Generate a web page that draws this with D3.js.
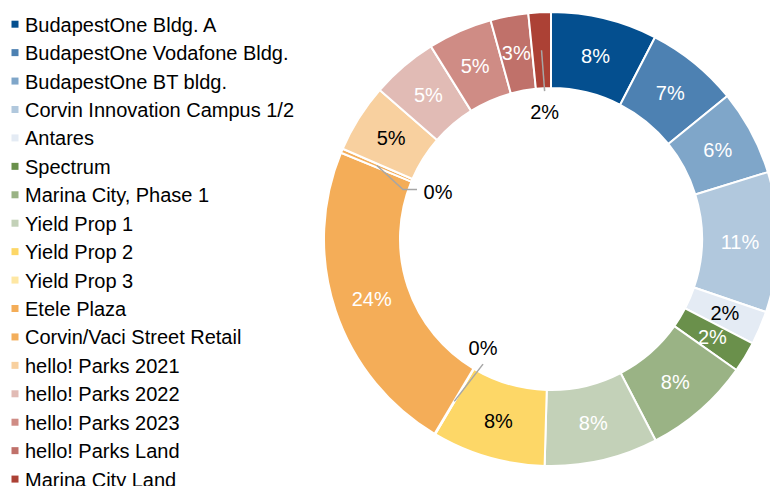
<!DOCTYPE html>
<html>
<head>
<meta charset="utf-8">
<script src="https://cdn.jsdelivr.net/npm/d3@7"></script>
<style>
  html, body { margin: 0; padding: 0; background: #fff; }
  svg { display: block; font-family: "Liberation Sans", Arial, sans-serif; }
</style>
</head>
<body>
<div id="donut_chart"></div>
<script>
// categories, in ring order (clockwise from 12 o'clock)
const categories = [
    "BudapestOne Bldg. A", "BudapestOne Vodafone Bldg.", "BudapestOne BT bldg.",
    "Corvin Innovation Campus 1/2", "Antares", "Spectrum", "Marina City, Phase 1",
    "Yield Prop 1", "Yield Prop 2", "Yield Prop 3", "Etele Plaza",
    "Corvin/Vaci Street Retail", "hello! Parks 2021", "hello! Parks 2022",
    "hello! Parks 2023", "hello! Parks Land", "Marina City Land"
];
// share of the ring (%)
const shares = [7.6, 6.6, 6.1, 10.0, 2.4, 2.2, 7.6, 8.1, 8.1, 0.05, 22.7, 0.3, 4.9, 4.75, 4.6, 2.7, 1.6];
// data labels as printed on the chart
const pctLabels = ["8%", "7%", "6%", "11%", "2%", "2%", "8%", "8%", "8%", "0%", "24%", "0%", "5%", "5%", "5%", "3%", "2%"];

const color_range = ["#044F8F", "#4D81B2", "#7FA6C9", "#B1C8DD", "#E4EBF4", "#6A904B", "#9AB385",
    "#C3D1B8", "#FDD767", "#FEE7A3", "#F4AD58", "#F3AE5B", "#F8D09F", "#E1BBB5", "#CF8C85",
    "#C0716A", "#AC4135"];
// labels drawn in black (light slices or leader-line labels)
const blackLabels = ["Antares", "Yield Prop 2", "Yield Prop 3", "Corvin/Vaci Street Retail", "hello! Parks 2021", "Marina City Land"];
const leaderLabels = ["Yield Prop 3", "Corvin/Vaci Street Retail", "Marina City Land"];

const width = 770, height = 486;
const cx = 551, cy = 239, outerR = 227, innerR = 151;

const svg = d3.select("#donut_chart")
    .append("svg")
        .attr("width", width)
        .attr("height", height);

const data = categories.map((c, i) => ({name: c, value: shares[i], label: pctLabels[i]}));

const color = d3.scaleOrdinal()
    .domain(categories)
    .range(color_range);

const pie = d3.pie()
    .sort(null)
    .value(d => d.value);

const arc = d3.arc()
    .innerRadius(innerR)
    .outerRadius(outerR);

const arcs = pie(data);

const g = svg.append("g")
    .attr("transform", `translate(${cx},${cy})`);

// slices
g.selectAll("path.slice")
    .data(arcs)
    .join("path")
        .attr("class", "slice")
        .attr("d", arc)
        .attr("fill", d => color(d.data.name))
        .attr("stroke", "#fff")
        .attr("stroke-width", 2)
        .attr("stroke-linejoin", "round");

// labels
const midR = (innerR + outerR) / 2;
const leaderR = 127;
function polar(r, a) { return [r * Math.sin(a), -r * Math.cos(a)]; }

arcs.forEach(d => {
    const mid = (d.startAngle + d.endAngle) / 2;
    const isLeader = leaderLabels.includes(d.data.name);
    let p = isLeader ? polar(leaderR, mid) : arc.centroid(d);

    if (isLeader) {
        const s = polar(midR, mid);
        let pts;
        const dx = p[0] - s[0], dy = p[1] - s[1];
        if (Math.abs(dx) > Math.abs(dy) * 0.9 && Math.abs(dy) < 60) {
            // elbow into the left side of the label
            p = [p[0] + 4, p[1] + 2];
            const ex = p[0] - 21, ey = p[1] - 2;
            pts = [s, [ex - 14, ey], [ex, ey]];
        } else if (dy > 0) {
            // label below the slice: line into its top
            pts = [s, [p[0], p[1] - 21]];
        } else {
            // label above the slice: line into its bottom
            p = [p[0] - 3, p[1]];
            pts = [s, [p[0], p[1] + 16]];
        }
        g.append("polyline")
            .attr("points", pts.map(q => q.join(",")).join(" "))
            .attr("fill", "none")
            .attr("stroke", "#A6A6A6")
            .attr("stroke-width", 1.5);
    }

    g.append("text")
        .attr("x", p[0])
        .attr("y", p[1])
        .attr("dy", "0.36em")
        .attr("text-anchor", "middle")
        .style("font-size", "20px")
        .attr("fill", blackLabels.includes(d.data.name) ? "#000" : "#fff")
        .text(d.data.label);
});

// legend
const rowH = 28.43;
const legend = svg.selectAll(".legend")
    .data(categories)
    .join("g")
        .attr("class", "legend")
        .attr("transform", (d, i) => `translate(0,${31.7 + i * rowH})`);

legend.append("rect")
    .attr("x", 11.5)
    .attr("y", -11)
    .attr("width", 7)
    .attr("height", 7)
    .attr("fill", d => color(d));

legend.append("text")
    .attr("x", 25)
    .attr("y", 0)
    .style("font-size", "20px")
    .attr("fill", "#000")
    .text(d => d);
</script>
</body>
</html>
